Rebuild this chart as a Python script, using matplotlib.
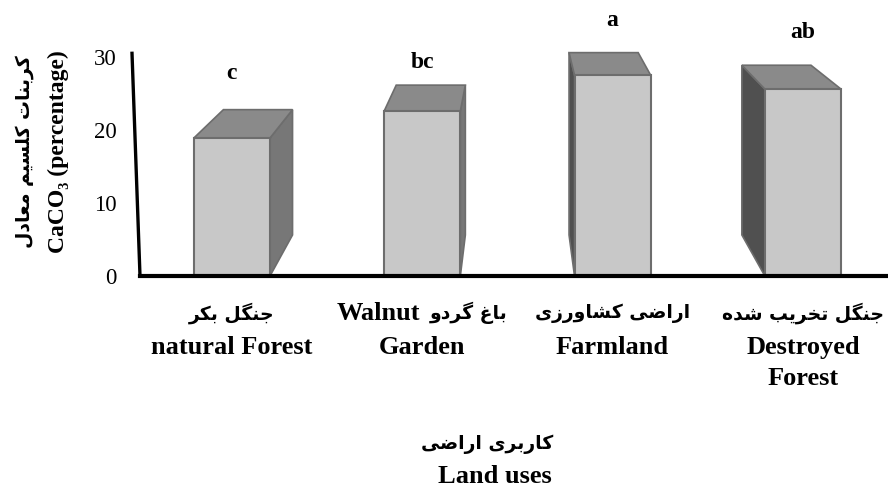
import numpy as np
import matplotlib.pyplot as plt
from matplotlib.patches import Polygon

# data
cats_fa = ['جنگل بکر', 'باغ گردو', 'اراضی کشاورزی', 'جنگل تخریب شده']
cats_en = ['natural Forest', 'Garden', 'Farmland', 'Destroyed\nForest']
values = [18.9, 22.6, 27.5, 25.6]
letters = ['c', 'bc', 'a', 'ab']
letter_y = [27.8, 29.3, 35.0, 33.3]
yticks = [0, 10, 20, 30]

# --- minimal arabic/persian shaping (matplotlib has no text shaping) ---
# isolated, final, initial, medial
forms = {
    'ا': ('\uFE8D', '\uFE8E', None, None),
    'ب': ('\uFE8F', '\uFE90', '\uFE91', '\uFE92'),
    'ت': ('\uFE95', '\uFE96', '\uFE97', '\uFE98'),
    'ج': ('\uFE9D', '\uFE9E', '\uFE9F', '\uFEA0'),
    'خ': ('\uFEA5', '\uFEA6', '\uFEA7', '\uFEA8'),
    'د': ('\uFEA9', '\uFEAA', None, None),
    'ر': ('\uFEAD', '\uFEAE', None, None),
    'ز': ('\uFEAF', '\uFEB0', None, None),
    'س': ('\uFEB1', '\uFEB2', '\uFEB3', '\uFEB4'),
    'ش': ('\uFEB5', '\uFEB6', '\uFEB7', '\uFEB8'),
    'ض': ('\uFEBD', '\uFEBE', '\uFEBF', '\uFEC0'),
    'ع': ('\uFEC9', '\uFECA', '\uFECB', '\uFECC'),
    'غ': ('\uFECD', '\uFECE', '\uFECF', '\uFED0'),
    'ل': ('\uFEDD', '\uFEDE', '\uFEDF', '\uFEE0'),
    'م': ('\uFEE1', '\uFEE2', '\uFEE3', '\uFEE4'),
    'ن': ('\uFEE5', '\uFEE6', '\uFEE7', '\uFEE8'),
    'ه': ('\uFEE9', '\uFEEA', '\uFEEB', '\uFEEC'),
    'و': ('\uFEED', '\uFEEE', None, None),
    'ک': ('\uFB8E', '\uFB8F', '\uFB90', '\uFB91'),
    'گ': ('\uFB92', '\uFB93', '\uFB94', '\uFB95'),
    'ی': ('\uFBFC', '\uFBFD', '\uFBFE', '\uFBFF'),
}


def fa(text):
    out = []
    for i, ch in enumerate(text):
        if ch not in forms:
            out.append(ch)
            continue
        prev = text[i - 1] if i > 0 else ''
        nxt = text[i + 1] if i + 1 < len(text) else ''
        j_prev = prev in forms and forms[prev][2] is not None
        j_next = forms[ch][2] is not None and nxt in forms
        iso, fin, ini, med = forms[ch]
        if j_prev and j_next:
            out.append(med)
        elif j_prev:
            out.append(fin)
        elif j_next:
            out.append(ini)
        else:
            out.append(iso)
    return ''.join(reversed(out))


serif = ['Liberation Serif', 'DejaVu Sans']
farsi = ['DejaVu Sans']
fa_size = 13.5
en_size = 19

fig = plt.figure(figsize=(8.88, 4.86), dpi=100)
ax = fig.add_axes([140 / 888, 210 / 486, 748 / 888, 276 / 486])
ax.set_xlim(-0.483, 3.447)
ax.set_ylim(0, 37.8)
for s in ax.spines.values():
    s.set_visible(False)
ax.set_xticks([])
ax.set_yticks(yticks)
ax.set_yticklabels([str(t) for t in yticks], family=serif, fontsize=16.5)
ax.tick_params(axis='y', length=0, pad=17)

# perspective 3D bars: vanishing point & depth factor
vp = np.array([1.487, 61.1])
depth = 0.092
w = 0.40
edge = '#6d6d6d'

for i, v in enumerate(values):
    x0, x1 = i - w / 2, i + w / 2
    fbl, fbr, ftr, ftl = [np.array(p) for p in [(x0, 0), (x1, 0), (x1, v), (x0, v)]]
    back = lambda p: p + depth * (vp - p)
    if vp[0] > x1:
        side = [fbr, ftr, back(ftr), back(fbr)]
        side_col = '#777777'
    else:
        side = [fbl, ftl, back(ftl), back(fbl)]
        side_col = '#505050'
    ax.add_patch(Polygon(side, closed=True, fc=side_col, ec=edge, lw=1.2, zorder=2))
    top = [ftl, ftr, back(ftr), back(ftl)]
    ax.add_patch(Polygon(top, closed=True, fc='#8a8a8a', ec=edge, lw=1.2, zorder=2))
    ax.add_patch(Polygon([fbl, fbr, ftr, ftl], closed=True, fc='#c8c8c8', ec=edge, lw=1.5, zorder=3))
    ax.text(i, letter_y[i], letters[i], ha='center', va='center', family=serif,
            fontsize=17, fontweight='bold', clip_on=False)

# axis lines
ax.plot([-0.525, -0.483], [30.5, 0], color='black', lw=2.4, clip_on=False, zorder=4)
ax.plot([-0.483, 3.447], [0, 0], color='black', lw=3, clip_on=False, zorder=4)

# category labels
for i in range(len(cats_fa)):
    if i == 1:
        ax.annotate(fa(cats_fa[i]), (i + 0.04, 173), xycoords=('data', 'figure pixels'),
                    ha='left', va='center', family=farsi, fontsize=fa_size, fontweight='bold')
        ax.annotate('Walnut', (i - 0.01, 173), xycoords=('data', 'figure pixels'),
                    ha='right', va='center', family=serif, fontsize=en_size, fontweight='bold')
    else:
        ax.annotate(fa(cats_fa[i]), (i, 173), xycoords=('data', 'figure pixels'),
                    ha='center', va='center', family=farsi, fontsize=fa_size, fontweight='bold')
    ax.annotate(cats_en[i], (i, 150), xycoords=('data', 'figure pixels'),
                ha='center', va='top', family=serif, fontsize=en_size, fontweight='bold',
                linespacing=1.45, multialignment='center')

# axis titles
fig.text(25 / 888, 334 / 486, fa('کربنات کلسیم معادل'), rotation=90, ha='center',
         va='center', family=farsi, fontsize=fa_size, fontweight='bold')
fig.text(58 / 888, 334 / 486, 'CaCO\u2083 (percentage)', rotation=90, ha='center',
         va='center', family=serif, fontsize=17, fontweight='bold')
fig.text(487 / 888, 42 / 486, fa('کاربری اراضی'), ha='center', va='center',
         family=farsi, fontsize=fa_size, fontweight='bold')
fig.text(495 / 888, 10 / 486, 'Land uses', ha='center', va='center',
         family=serif, fontsize=en_size, fontweight='bold')

fig.savefig('out.png', dpi=100)
